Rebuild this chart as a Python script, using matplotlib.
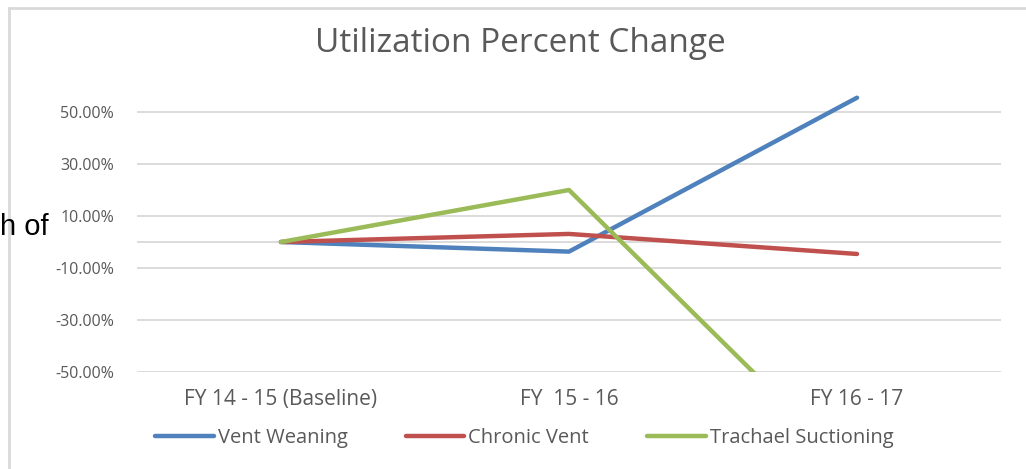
import matplotlib
matplotlib.use("Agg")
from matplotlib import pyplot as plt
from matplotlib.lines import Line2D
from matplotlib.ticker import FuncFormatter

plt.rcParams['font.family'] = ['Open Sans', 'DejaVu Sans']

periods = ["FY 14 - 15 (Baseline)", "FY  15 - 16", "FY 16 - 17"]
vent_weaning = [0.0, -3.7, 55.5]
chronic_vent = [0.0, 3.1, -4.6]
trachael_suctioning = [0.0, 20.0, -89.5]
y_ticks = [-50, -30, -10, 10, 30, 50]

grey_text = "#595959"
grid_col = "#d9d9d9"

fig = plt.figure(figsize=(10.26, 4.69), dpi=100)
ax = fig.add_axes([137 / 1026, 97 / 469, 864 / 1026, 286 / 469])

x = range(len(periods))
ax.plot(x, vent_weaning, color="#4f81bd", lw=3.2, solid_capstyle="round", label="Vent Weaning", zorder=3)
ax.plot(x, chronic_vent, color="#c0504d", lw=3.2, solid_capstyle="round", label="Chronic Vent", zorder=3)
ax.plot(x, trachael_suctioning, color="#9bbb59", lw=3.2, solid_capstyle="round", label="Trachael Suctioning", zorder=3)

ax.set_xlim(-0.5, 2.5)
ax.set_ylim(-50, 60)
ax.set_yticks(y_ticks)
ax.yaxis.set_major_formatter(FuncFormatter(lambda v, p: f"{v:.2f}%"))
ax.set_xticks(list(x))
ax.set_xticklabels(periods)

for t in y_ticks:
    ax.axhline(t, color=grid_col, lw=1.3, zorder=1)
ax.axhline(0, color=grid_col, lw=1.3, zorder=1)

for s in ax.spines.values():
    s.set_visible(False)
ax.tick_params(axis="both", length=0, colors=grey_text)
ax.tick_params(axis="y", pad=16.5, labelsize=11.5)
ax.tick_params(axis="x", pad=12, labelsize=15)

fig.text(0.507, (469 - 43) / 469, "Utilization Percent Change", ha="center", va="center",
         fontsize=24, color=grey_text)

leg = fig.legend(loc="center", bbox_to_anchor=(0.511, (469 - 438) / 469), ncol=3, frameon=False,
                 fontsize=14.5, handlelength=2.9, handletextpad=0.2, columnspacing=2.9,
                 labelcolor=grey_text)

# chart border (top and left edges visible)
fig.add_artist(Line2D([9 / 1026, 1], [1 - 8 / 469, 1 - 8 / 469], color=grid_col, lw=2))
fig.add_artist(Line2D([9 / 1026, 9 / 1026], [0, 1 - 8 / 469], color=grid_col, lw=2))

fig.text(0.0, (469 - 227) / 469, "h of", ha="left", va="center", fontsize=21,
         color="black", family="Liberation Sans")

fig.savefig("out.png", dpi=100)
